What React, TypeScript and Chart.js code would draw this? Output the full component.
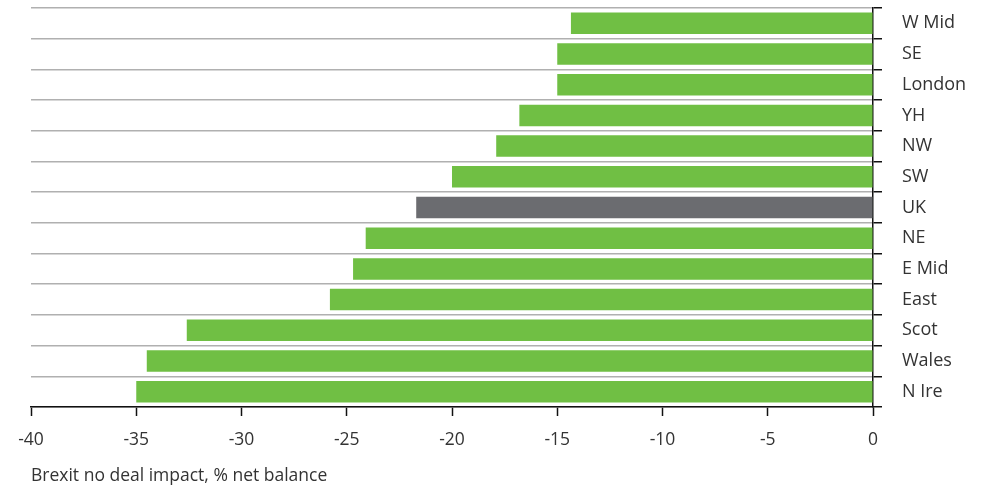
import React, { useEffect, useRef } from "react";
import { Chart, registerables } from "chart.js";

Chart.register(...registerables);

const categories = ["W Mid", "SE", "London", "YH", "NW", "SW", "UK", "NE", "E Mid", "East", "Scot", "Wales", "N Ire"];
const values = [-14.35, -15.0, -15.0, -16.8, -17.9, -20.0, -21.7, -24.1, -24.7, -25.8, -32.6, -34.5, -35.0];
const highlight = "UK";
const xMin = -40;
const xMax = 0;
const xStep = 5;
const xTitle = "Brexit no deal impact, % net balance";

const GREEN = "#70bf44";
const GREY = "#6b6c70";
const FONT = "'Open Sans', 'Noto Sans', sans-serif";

export default function App() {
  const ref = useRef<HTMLCanvasElement>(null);
  useEffect(() => {
    document.body.style.margin = "0";
    const chart = new Chart(ref.current!, {
      type: "bar",
      data: {
        labels: categories,
        datasets: [
          {
            data: values,
            backgroundColor: categories.map((c) => (c === highlight ? GREY : GREEN)),
            categoryPercentage: 0.7,
            barPercentage: 1,
            borderWidth: 0,
          },
        ],
      },
      options: {
        indexAxis: "y",
        animation: false,
        responsive: false,
        maintainAspectRatio: false,
        layout: { padding: { top: 8, left: 31, right: 0, bottom: 0 } },
        plugins: { legend: { display: false }, tooltip: { enabled: false } },
        scales: {
          x: {
            min: xMin,
            max: xMax,
            ticks: { stepSize: xStep, color: "#333", font: { family: FONT, size: 17.5 }, padding: 14, maxRotation: 0 },
            grid: { drawOnChartArea: false, drawTicks: true, tickLength: 9, tickColor: "#111", tickWidth: 1.5 },
            border: { color: "#111", width: 1.5 },
            title: {
              display: true,
              text: xTitle,
              align: "start",
              color: "#333",
              font: { family: FONT, size: 17.5 },
              padding: { top: 4, bottom: 0 },
            },
            afterFit: (s: any) => {
              s.height = 80;
            },
          },
          y: {
            position: "right",
            offset: true,
            ticks: { color: "#333", font: { family: FONT, size: 18 }, padding: 20 },
            grid: { offset: true, color: "#b0b0b0", lineWidth: 1.5, tickColor: "#111", tickLength: 9, tickWidth: 1.5 },
            border: { color: "#111", width: 1.5 },
            afterFit: (s: any) => {
              s.width = 113;
              s.paddingTop = 0;
              s.paddingBottom = 0;
            },
          },
        },
      },
    });
    return () => chart.destroy();
  }, []);
  return (
    <div style={{ width: 986, height: 487, position: "relative" }}>
      <canvas ref={ref} width={986} height={487} style={{ width: 986, height: 487, display: "block" }} />
    </div>
  );
}
